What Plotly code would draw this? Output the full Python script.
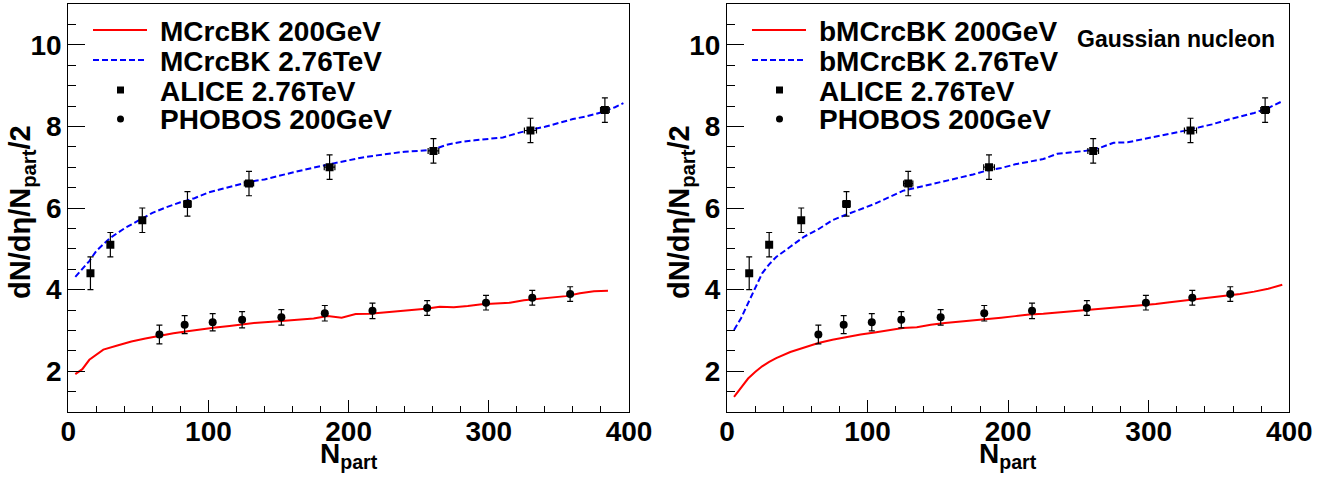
import plotly.graph_objects as go

W, H = 1336, 477

# ---------------- data ----------------
npart_alice = [382.8, 329.7, 260.5, 186.4, 128.9, 85.0, 52.8, 30.0, 15.8]
alice = [8.4, 7.9, 7.4, 7.0, 6.6, 6.1, 5.7, 5.1, 4.4]
alice_err = [0.3, 0.3, 0.3, 0.3, 0.3, 0.3, 0.3, 0.3, 0.4]
alice_xerr = [3.1, 4.3, 3.8, 3.8, 3.3, 2.6, 2.0, 1.3, 0.6]

npart_phobos = [358, 331, 298, 256, 217, 183, 152, 124, 103, 83, 65]
phobos = [3.89, 3.80, 3.68, 3.55, 3.48, 3.42, 3.32, 3.26, 3.20, 3.14, 2.90]
phobos_err = [0.18, 0.18, 0.18, 0.18, 0.19, 0.19, 0.19, 0.2, 0.21, 0.22, 0.23]

# left panel: MCrcBK
mc200_x = [5, 10, 15, 25, 35, 45, 55, 65, 75, 85, 95, 105, 115, 125, 135, 145, 155,
           165, 175, 185, 195, 205, 215, 225, 235, 245, 255, 265, 275, 285, 295, 305,
           315, 325, 335, 345, 355, 365, 375, 385]
mc200_y = [1.93, 2.05, 2.28, 2.53, 2.63, 2.73, 2.80, 2.87, 2.93, 2.98, 3.03, 3.07, 3.11,
           3.15, 3.19, 3.21, 3.24, 3.26, 3.29, 3.35, 3.31, 3.40, 3.41, 3.44, 3.47, 3.49,
           3.53, 3.58, 3.57, 3.60, 3.64, 3.66, 3.68, 3.74, 3.77, 3.81, 3.84, 3.91, 3.96, 3.97]
mc276_x = [5, 10, 15, 20, 25, 30, 40, 50, 60, 70, 80, 90, 100, 110, 120, 130, 140, 150,
           160, 170, 180, 190, 200, 210, 220, 230, 240, 250, 260, 270, 280, 290, 300, 310,
           320, 330, 340, 350, 360, 370, 380, 390, 396]
mc276_y = [4.31, 4.50, 4.70, 4.95, 5.12, 5.27, 5.50, 5.70, 5.88, 6.02, 6.14, 6.24, 6.38,
           6.47, 6.56, 6.65, 6.70, 6.79, 6.87, 6.95, 7.03, 7.10, 7.17, 7.24, 7.29, 7.34,
           7.38, 7.40, 7.43, 7.55, 7.62, 7.66, 7.70, 7.73, 7.83, 7.92, 7.99, 8.08, 8.18,
           8.25, 8.34, 8.47, 8.57]

# right panel: bMCrcBK
bmc200_x = [5, 10, 15, 20, 25, 30, 35, 45, 55, 65, 75, 85, 95, 105, 115, 125, 135, 145,
            155, 165, 175, 185, 195, 205, 215, 225, 235, 245, 255, 265, 275, 285, 295,
            305, 315, 325, 335, 345, 355, 365, 375, 385, 395]
bmc200_y = [1.37, 1.60, 1.82, 1.98, 2.12, 2.23, 2.32, 2.47, 2.58, 2.69, 2.77, 2.84, 2.90,
            2.95, 3.01, 3.06, 3.08, 3.14, 3.18, 3.21, 3.25, 3.28, 3.31, 3.35, 3.39, 3.41,
            3.44, 3.47, 3.50, 3.53, 3.55, 3.58, 3.61, 3.65, 3.69, 3.73, 3.77, 3.80, 3.84,
            3.89, 3.95, 4.02, 4.12]
bmc276_x = [5, 10, 16, 20, 25, 30, 35, 45, 55, 65, 75, 85, 95, 105, 115, 125, 135, 145,
            155, 165, 175, 185, 195, 205, 215, 225, 235, 245, 255, 265, 275, 285, 295,
            305, 315, 325, 335, 345, 355, 365, 375, 385, 394]
bmc276_y = [3.01, 3.30, 3.74, 4.05, 4.40, 4.62, 4.80, 5.05, 5.30, 5.48, 5.70, 5.84, 5.97,
            6.10, 6.26, 6.42, 6.50, 6.58, 6.65, 6.73, 6.82, 6.92, 6.98, 7.07, 7.14, 7.20,
            7.33, 7.37, 7.40, 7.47, 7.60, 7.61, 7.68, 7.75, 7.81, 7.89, 7.97, 8.05, 8.15,
            8.24, 8.33, 8.45, 8.60]

left_labels = ["MCrcBK 200GeV", "MCrcBK 2.76TeV", "ALICE 2.76TeV", "PHOBOS 200GeV"]
right_labels = ["bMCrcBK 200GeV", "bMCrcBK 2.76TeV", "ALICE 2.76TeV", "PHOBOS 200GeV"]

# ---------------- layout geometry ----------------
FONT = "Liberation Sans, Arial, sans-serif"
def px(x):
    return x / W
def py(y):
    return 1 - y / H

panels = [
    dict(xa="x", ya="y", x0=68.3, x1=629.0, dx=0),
    dict(xa="x2", ya="y2", x0=727.0, x1=1289.3, dx=659),
]
ytop, ybot = 4.0, 412.0

fig = go.Figure()

def add_panel(xa, ya, c200x, c200y, c276x, c276y):
    fig.add_trace(go.Scatter(x=c200x, y=c200y, mode="lines", xaxis=xa, yaxis=ya,
                             line=dict(color="#ff0000", width=2), showlegend=False))
    fig.add_trace(go.Scatter(x=c276x, y=c276y, mode="lines", xaxis=xa, yaxis=ya,
                             line=dict(color="#0000ff", width=2, dash="6px,3px"),
                             showlegend=False))
    fig.add_trace(go.Scatter(x=npart_alice, y=alice, mode="markers", xaxis=xa, yaxis=ya,
                             marker=dict(symbol="square", size=8, color="black"),
                             error_y=dict(type="data", array=alice_err, color="black",
                                          thickness=1.2, width=3),
                             error_x=dict(type="data", array=alice_xerr, color="black",
                                          thickness=1.2, width=3),
                             showlegend=False))
    fig.add_trace(go.Scatter(x=npart_phobos, y=phobos, mode="markers", xaxis=xa, yaxis=ya,
                             marker=dict(symbol="circle", size=8, color="black"),
                             error_y=dict(type="data", array=phobos_err, color="black",
                                          thickness=1.2, width=3),
                             showlegend=False))

add_panel("x", "y", mc200_x, mc200_y, mc276_x, mc276_y)
add_panel("x2", "y2", bmc200_x, bmc200_y, bmc276_x, bmc276_y)

tickfont = dict(family=FONT, size=28, color="black", weight="bold")
def xaxis(dom, anchor):
    return dict(domain=dom, anchor=anchor, range=[0, 400], dtick=100, tick0=0,
                automargin=False, ticklabelstandoff=-6,
                ticks="inside", ticklen=12, tickwidth=1, tickcolor="black",
                minor=dict(ticks="inside", dtick=20, ticklen=6, tickwidth=1, tickcolor="black"),
                showline=True, linecolor="black", linewidth=1, mirror=True,
                showgrid=False, zeroline=False, tickfont=tickfont, fixedrange=True)
def yaxis(dom, anchor):
    return dict(domain=dom, anchor=anchor, range=[1, 11], dtick=2, tick0=0,
                automargin=False,
                ticks="inside", ticklen=17, tickwidth=1, tickcolor="black",
                minor=dict(ticks="inside", dtick=0.5, ticklen=8, tickwidth=1, tickcolor="black"),
                showline=True, linecolor="black", linewidth=1, mirror=True,
                showgrid=False, zeroline=False, tickfont=tickfont, fixedrange=True)

ydom = [py(ybot), py(ytop)]
fig.update_layout(
    template="none",
    width=W, height=H, autosize=False,
    margin=dict(l=0, r=0, t=0, b=0, pad=0, autoexpand=False),
    paper_bgcolor="white", plot_bgcolor="white", showlegend=False,
    xaxis=xaxis([px(68.3), px(629.0)], "y"),
    yaxis=yaxis(ydom, "x"),
    xaxis2=xaxis([px(727.0), px(1289.3)], "y2"),
    yaxis2=yaxis(ydom, "x2"),
)

ann = []
shapes = []
tfont = dict(family=FONT, size=28, color="black", weight="bold")
yfont = dict(family=FONT, size=29, color="black", weight="bold")
for p, labels in zip(panels, [left_labels, right_labels]):
    dx = p["dx"]
    cx = (p["x0"] + p["x1"]) / 2
    # axis titles
    ann.append(dict(xref="paper", yref="paper", x=px(cx), y=py(455), text="N<sub>part</sub>",
                    showarrow=False, xanchor="center", yanchor="middle", font=tfont))
    ann.append(dict(xref="paper", yref="paper", x=px(22 + dx), y=py(212),
                    text="dN/dη/N<sub>part</sub>/2", textangle=-90, showarrow=False,
                    xanchor="center", yanchor="middle", font=yfont))
    # legend
    rows = [30, 60, 90, 119]
    shapes.append(dict(type="line", xref="paper", yref="paper", x0=px(93 + dx), x1=px(147 + dx),
                       y0=py(rows[0]), y1=py(rows[0]), line=dict(color="#ff0000", width=2)))
    shapes.append(dict(type="line", xref="paper", yref="paper", x0=px(93 + dx), x1=px(147 + dx),
                       y0=py(rows[1]), y1=py(rows[1]),
                       line=dict(color="#0000ff", width=2, dash="6px,3px")))
    shapes.append(dict(type="rect", xref="paper", yref="paper", x0=px(117 + dx), x1=px(124 + dx),
                       y0=py(rows[2] + 3.5), y1=py(rows[2] - 3.5),
                       fillcolor="black", line=dict(width=0)))
    shapes.append(dict(type="circle", xref="paper", yref="paper", x0=px(117 + dx), x1=px(124 + dx),
                       y0=py(rows[3] + 3.5), y1=py(rows[3] - 3.5),
                       fillcolor="black", line=dict(width=0)))
    for r, t in zip(rows, labels):
        ann.append(dict(xref="paper", yref="paper", x=px(158 + dx), y=py(r + 1), text=t,
                        showarrow=False, xanchor="left", yanchor="middle", font=tfont))

ann.append(dict(xref="paper", yref="paper", x=px(1176), y=py(39), text="Gaussian nucleon",
                showarrow=False, xanchor="center", yanchor="middle",
                font=dict(family=FONT, size=23, color="black", weight="bold")))

fig.update_layout(annotations=ann, shapes=shapes)

post = (
    "document.documentElement.style.overflow='hidden';"
    "document.body.style.margin='0';"
    "document.body.style.overflow='hidden';"
)
fig.write_html("out.html", config={"displayModeBar": False, "responsive": False},
               post_script=post)
